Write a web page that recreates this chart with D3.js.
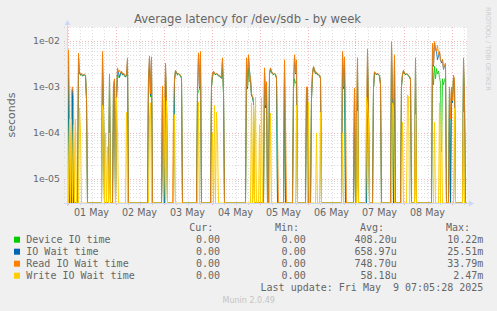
<!DOCTYPE html>
<html>
<head>
<meta charset="utf-8">
<script src="https://cdn.jsdelivr.net/npm/d3@7"></script>
<style>
  body { margin: 0; background: #f0f0f0; }
  svg { display: block; }
</style>
</head>
<body>
<div id="chart"></div>
<script>
// 30-minute samples, [index, value in seconds]; missing indexes are 0
const deviceIO = [[1,1.5e-3],[5,9e-4],[11,2e-3],[12,2.0e-3],[13,1.8e-3],[14,1.85e-3],[15,1.72e-3],[16,1.78e-3],[17,1.82e-3],[18,1.72e-3],[19,5.5e-4],
  [35,2.5e-3],[36,3.5e-4],[42,1.7e-3],[46,9e-4],[47,1.4e-3],
  [49,5.5e-4],[50,1.9e-3],[51,1.6e-3],[52,1.7e-3],[53,1.9e-3],[54,2.1e-3],[55,1.82e-3],[56,1.9e-3],[57,1.72e-3],[58,1.62e-3],[59,1.8e-3],[60,2.5e-3],
  [81,1.7e-3],[82,2.5e-3],[83,6e-4],[84,2.2e-3],[95,9.5e-4],[98,2e-3],[99,4.5e-4],
  [107,1.3e-3],[108,2.15e-3],[109,2.0e-3],[110,1.82e-3],[111,1.9e-3],[112,1.82e-3],[113,1.72e-3],[114,1.52e-3],
  [130,7e-4],[131,8e-4],[132,9e-4],[133,3e-3],
  [144,1e-3],[145,1.6e-3],[146,2.0e-3],[147,1.92e-3],[148,1.82e-3],[149,1.92e-3],[150,1.82e-3],[151,1.72e-3],[152,1.72e-3],[153,1.62e-3],[154,1.52e-3],[155,2.5e-3],[156,7e-4],
  [179,2.5e-3],[180,9e-4],[181,2.5e-3],[182,1.3e-3],[183,1.4e-3],[184,6.5e-4],[185,6e-4],[186,4.5e-4],
  [197,2e-3],[198,3.5e-4],[199,1.2e-3],
  [202,1.9e-3],[203,2.4e-3],[204,2.1e-3],[205,1.92e-3],[206,1.82e-3],[207,1.92e-3],[208,1.82e-3],[209,1.52e-3],
  [217,2.2e-3],[226,9e-4],[227,1.5e-3],[228,1.2e-3],[229,1.3e-3],[239,9e-4],[240,9e-4],
  [244,5.5e-4],[245,1.9e-3],[246,2.6e-3],[247,2.3e-3],[248,1.92e-3],[249,2.0e-3],[250,1.82e-3],[251,1.82e-3],[252,1.72e-3],[253,1.52e-3],
  [275,3e-3],[276,9e-4],[277,2.5e-3],[287,8.5e-4],[290,2.5e-3],[300,3e-3],[301,2.5e-4],
  [306,9e-4],[307,2.05e-3],[308,1.92e-3],[309,1.82e-3],[310,1.92e-3],[311,1.82e-3],[312,1.72e-3],[313,1.1e-3],
  [324,3.5e-3],[325,5.5e-4],[327,2.5e-3],
  [334,1e-3],[335,1.8e-3],[336,2.2e-3],[337,1.92e-3],[338,1.82e-3],[339,1.92e-3],[340,1.82e-3],[341,1.72e-3],[342,1.62e-3],[343,1.42e-3],
  [348,2.5e-3],
  [365,3e-3],[366,1.1e-3],[367,2.8e-3],[368,1.5e-3],[369,2.5e-3],[370,1.9e-3],[371,2.2e-3],[372,1.6e-3],[373,1.2e-3],[374,3.9e-5],[375,1.5e-3],[376,1.1e-3],[377,1.4e-3],[378,1.6e-3],
  [382,9e-4],[384,9e-4],[385,4.5e-4],[386,1.5e-3],[387,1.2e-3],[396,2.5e-3],[397,4.5e-4]];

const ioWait = [[1,5e-3],[5,9e-4],[11,4.5e-3],[12,2.0e-3],[13,1.85e-3],[14,1.9e-3],[15,1.75e-3],[16,1.8e-3],[17,1.85e-3],[18,1.75e-3],[19,5.5e-4],
  [35,5e-3],[36,3.5e-4],[42,1.8e-3],[46,9.5e-4],[47,1.45e-3],
  [49,5.5e-4],[50,2.4e-3],[51,2.0e-3],[52,1.6e-3],[53,1.95e-3],[54,2.15e-3],[55,1.85e-3],[56,1.95e-3],[57,1.75e-3],[58,1.65e-3],[59,1.85e-3],[60,4e-3],
  [81,1.55e-3],[82,4.4e-3],[83,6.5e-4],[84,4.2e-3],[95,1e-3],[98,3.1e-3],[99,4.5e-4],
  [107,1.45e-3],[108,2.25e-3],[109,2.05e-3],[110,1.85e-3],[111,1.95e-3],[112,1.85e-3],[113,1.75e-3],[114,1.55e-3],
  [130,7.5e-4],[131,5.2e-3],[132,9.5e-4],[133,5.5e-3],
  [144,1.05e-3],[145,1.95e-3],[146,2.15e-3],[147,1.95e-3],[148,1.85e-3],[149,1.95e-3],[150,1.85e-3],[151,1.75e-3],[152,1.75e-3],[153,1.65e-3],[154,1.55e-3],[155,4.1e-3],[156,7.5e-4],
  [179,4.1e-3],[180,9.5e-4],[181,4.7e-3],[182,2.3e-3],[183,1.45e-3],[184,6.5e-4],[185,6e-4],[186,4.5e-4],
  [197,2.45e-3],[198,3.5e-4],[199,1.25e-3],
  [202,1.95e-3],[203,2.5e-3],[204,2.15e-3],[205,1.95e-3],[206,1.85e-3],[207,1.95e-3],[208,1.85e-3],[209,1.55e-3],
  [217,3.7e-3],[226,9.5e-4],[227,4.7e-3],[228,1.9e-3],[229,3.7e-3],[239,9.5e-4],[240,9.5e-4],
  [244,5.5e-4],[245,1.95e-3],[246,2.7e-3],[247,2.35e-3],[248,1.95e-3],[249,2.05e-3],[250,1.85e-3],[251,1.85e-3],[252,1.75e-3],[253,1.55e-3],
  [275,5.6e-3],[276,9.5e-4],[277,4.3e-3],[287,9e-4],[290,4.1e-3],[300,6.3e-3],[301,2.5e-4],
  [306,9.5e-4],[307,2.1e-3],[308,1.95e-3],[309,1.85e-3],[310,1.95e-3],[311,1.85e-3],[312,1.75e-3],[313,1.15e-3],
  [324,9e-3],[325,5.5e-4],[327,4.7e-3],
  [334,1.05e-3],[335,1.85e-3],[336,2.25e-3],[337,1.95e-3],[338,1.85e-3],[339,1.95e-3],[340,1.85e-3],[341,1.75e-3],[342,1.65e-3],[343,1.45e-3],
  [348,4.1e-3],
  [365,8.4e-3],[366,2.8e-3],[367,9.2e-3],[368,6.6e-3],[369,5.7e-3],[370,3.9e-3],[371,4.7e-3],[372,5.7e-3],[373,3.8e-3],[374,3.3e-3],[375,3.8e-3],[376,2.4e-3],[377,2.85e-3],[378,3.1e-3],
  [382,9.5e-4],[384,9.5e-4],[385,4.5e-4],[386,1.7e-3],[387,1.35e-3],[396,4.1e-3],[397,4.5e-4]];

const readWait = [[0,3e-4],[1,6.4e-3],[2,2e-4],[4,8e-4],[5,1e-3],[6,6e-4],
  [11,5.4e-3],[12,2.1e-3],[13,1.9e-3],[14,1.95e-3],[15,1.8e-3],[16,1.85e-3],[17,1.9e-3],[18,1.8e-3],[19,6e-4],
  [35,5.9e-3],[36,4e-4],[42,1.9e-3],[46,1e-3],[47,1.5e-3],
  [49,6e-4],[50,2.6e-3],[51,2.1e-3],[52,2.3e-3],[53,2.0e-3],[54,2.2e-3],[55,1.9e-3],[56,2.0e-3],[57,1.8e-3],[58,1.7e-3],[59,1.9e-3],[60,4.3e-3],
  [81,1.6e-3],[82,4.7e-3],[83,7e-4],[84,4.5e-3],
  [95,1.05e-3],[97,3e-4],[98,3.3e-3],[99,5e-4],
  [106,3e-4],[107,1.5e-3],[108,2.3e-3],[109,2.1e-3],[110,1.9e-3],[111,2.0e-3],[112,1.9e-3],[113,1.8e-3],[114,1.6e-3],
  [130,8e-4],[131,5.5e-3],[132,1e-3],[133,5.9e-3],
  [144,1.1e-3],[145,2e-3],[146,2.2e-3],[147,2.0e-3],[148,1.9e-3],[149,2.0e-3],[150,1.9e-3],[151,1.8e-3],[152,1.8e-3],[153,1.7e-3],[154,1.6e-3],[155,4.3e-3],[156,8e-4],
  [179,4.3e-3],[180,1e-3],[181,5e-3],[182,2e-3],[183,1.5e-3],[184,7e-4],[185,6.5e-4],[186,5e-4],
  [197,2.6e-3],[198,4e-4],[199,1.3e-3],
  [202,2.0e-3],[203,2.6e-3],[204,2.2e-3],[205,2.0e-3],[206,1.9e-3],[207,2.0e-3],[208,1.9e-3],[209,1.6e-3],[210,1e-4],
  [217,3.9e-3],[218,2e-4],[226,1e-3],[227,5e-3],[228,2e-3],[229,3.9e-3],[239,1e-3],[240,1e-3],
  [244,6e-4],[245,2e-3],[246,2.8e-3],[247,2.4e-3],[248,2.0e-3],[249,2.1e-3],[250,1.9e-3],[251,1.9e-3],[252,1.8e-3],[253,1.6e-3],
  [275,5.9e-3],[276,1e-3],[277,4.5e-3],[278,3e-4],[287,9.5e-4],[289,3e-4],[290,4.3e-3],
  [299,2e-4],[300,6.7e-3],[301,3e-4],
  [306,1e-3],[307,2.15e-3],[308,2.0e-3],[309,1.9e-3],[310,2.0e-3],[311,1.9e-3],[312,1.8e-3],[313,1.2e-3],
  [324,9.6e-3],[325,6e-4],[326,4e-4],[327,5e-3],
  [334,1.1e-3],[335,1.9e-3],[336,2.3e-3],[337,2.0e-3],[338,1.9e-3],[339,2.0e-3],[340,1.9e-3],[341,1.8e-3],[342,1.7e-3],[343,1.5e-3],
  [348,4.3e-3],
  [365,8.9e-3],[366,3e-3],[367,9.7e-3],[368,7e-3],[369,6e-3],[370,8e-3],[371,5e-3],[372,6e-3],[373,4e-3],[374,3.5e-3],[375,4e-3],[376,2.5e-3],[377,3e-3],[378,3.3e-3],
  [382,1e-3],[383,2e-4],[384,1e-3],[385,5e-4],[386,1.8e-3],[387,1.4e-3],[396,4.3e-3],[397,5e-4]];

const writeWait = [[0,1.5e-4],[2,2e-4],[4,2e-4],[6,1.5e-4],[8,2e-4],[12,3.5e-4],[13,1e-4],[35,4e-4],[36,3e-4],[38,1e-4],[40,5e-5],[42,1e-4],
  [49,5.8e-4],[50,1e-4],[59,2.8e-4],[82,2e-4],[83,4.5e-4],[97,6e-4],[99,5e-4],[107,2.5e-4],[131,4.7e-4],
  [145,1e-4],[147,4e-4],[149,2.8e-4],[150,8e-5],[184,4.5e-4],[186,4e-4],[188,6e-4],[192,1.5e-4],[194,5.8e-4],
  [203,2.7e-4],[229,4e-4],[241,4.7e-4],[249,1e-4],[253,2.8e-4],[275,1e-4],[290,3e-4],
  [299,6e-4],[300,4e-4],[301,1.7e-4],[325,4.5e-4],[326,3e-4],[335,1.7e-4],[340,6.7e-4],[341,6e-4],[348,2.5e-4],
  [367,1.7e-4],[372,4.5e-4],[374,4.5e-4],[387,3.5e-4],[396,2.8e-4]];

const seriesNames = ["Device IO time", "IO Wait time", "Read IO Wait time", "Write IO Wait time"];
const curValues = ["0.00", "0.00", "0.00", "0.00"];
const minValues = ["0.00", "0.00", "0.00", "0.00"];
const avgValues = ["408.20u", "658.97u", "748.70u", "58.18u"];
const maxValues = ["10.22m", "25.51m", "33.79m", "2.47m"];
const yTicks = [1e-5, 1e-4, 1e-3, 1e-2];
const yTickLabels = ["1e-05", "1e-04", "1e-03", "1e-02"];

const colors = ["#00cc00", "#0066b3", "#ff8000", "#ffcc00"];
const N = 400;
const stepMs = 30 * 60 * 1000;
const startTime = Date.UTC(2025, 3, 30, 23, 45);

drawChart();

function toSeries(points) {
    const full = d3.range(N).map(() => 0);
    points.forEach(p => { full[p[0]] = p[1]; });
    return full.map((v, i) => ({ t: new Date(startTime + (i + 0.5) * stepMs), v: v }));
}

function drawChart() {
    const W = 497, H = 311;
    const left = 67, top = 27, right = 467, bottom = 203;
    const endTime = new Date(startTime + N * stepMs);

    const svg = d3.select("#chart").append("svg")
        .attr("width", W)
        .attr("height", H);

    svg.append("rect").attr("width", W).attr("height", H).attr("fill", "#f0f0f0");
    svg.append("rect")
        .attr("x", left).attr("y", top)
        .attr("width", right - left).attr("height", bottom - top)
        .attr("fill", "#ffffff");

    const x = d3.scaleUtc()
        .domain([new Date(startTime), endTime])
        .range([left, right]);

    const y = d3.scaleLog()
        .domain([3.0e-6, 2.0e-2])
        .range([bottom, top])
        .clamp(true);
    const yMin = y.domain()[0];

    // 网格
    const grid = svg.append("g").attr("shape-rendering", "crispEdges");
    const minorColor = "rgba(143,143,143,0.3)";
    const majorColor = "rgba(233,95,95,0.45)";
    const minorY = [];
    [1e-6, 1e-5, 1e-4, 1e-3, 1e-2].forEach(d => {
        for (let k = 2; k <= 9; k++) {
            const v = k * d;
            if (v > yMin && v <= y.domain()[1]) minorY.push(v);
        }
    });
    grid.selectAll(".ymin").data(minorY).enter().append("line")
        .attr("x1", left - 3).attr("x2", right + 2)
        .attr("y1", d => Math.round(y(d)) + 0.5).attr("y2", d => Math.round(y(d)) + 0.5)
        .attr("stroke", minorColor)
        .attr("stroke-dasharray", "1,2");

    const days = d3.utcDay.range(new Date(startTime), endTime);
    const sixHours = d3.utcHour.every(6).range(new Date(startTime), endTime)
        .filter(d => d.getUTCHours() !== 0);
    grid.selectAll(".xmin").data(sixHours).enter().append("line")
        .attr("x1", d => Math.round(x(d)) + 0.5).attr("x2", d => Math.round(x(d)) + 0.5)
        .attr("y1", top).attr("y2", bottom + 3)
        .attr("stroke", minorColor)
        .attr("stroke-dasharray", "1,2");

    grid.selectAll(".ymaj").data(yTicks).enter().append("line")
        .attr("x1", left - 3).attr("x2", right + 2)
        .attr("y1", d => Math.round(y(d)) + 0.5).attr("y2", d => Math.round(y(d)) + 0.5)
        .attr("stroke", majorColor)
        .attr("stroke-dasharray", "1,2");
    grid.selectAll(".xmaj").data(days).enter().append("line")
        .attr("x1", d => Math.round(x(d)) + 0.5).attr("x2", d => Math.round(x(d)) + 0.5)
        .attr("y1", top).attr("y2", bottom + 3)
        .attr("stroke", majorColor)
        .attr("stroke-dasharray", "1,2");

    // 数据线
    const line = d3.line()
        .x(d => x(d.t))
        .y(d => y(Math.max(d.v, yMin)));

    const opacity = [0.8, 0.8, 0.85, 0.95];
    [deviceIO, ioWait, readWait, writeWait].forEach((pts, i) => {
        svg.append("path")
            .datum(toSeries(pts))
            .attr("d", line)
            .attr("fill", "none")
            .attr("stroke", colors[i])
            .attr("stroke-opacity", opacity[i])
            .attr("stroke-width", 1);
    });

    // 坐标轴
    const axisColor = "#cfd6f8";
    svg.append("line").attr("x1", left - 3).attr("x2", right + 3)
        .attr("y1", bottom + 0.5).attr("y2", bottom + 0.5)
        .attr("stroke", axisColor);
    svg.append("line").attr("x1", left + 0.5).attr("x2", left + 0.5)
        .attr("y1", bottom + 3).attr("y2", top - 4)
        .attr("stroke", axisColor);
    svg.append("path")
        .attr("d", `M${right + 7},${bottom + 0.5} L${right + 2},${bottom - 2.5} L${right + 2},${bottom + 3.5} Z`)
        .attr("fill", axisColor);
    svg.append("path")
        .attr("d", `M${left + 0.5},${top - 7} L${left - 2.5},${top - 2} L${left + 3.5},${top - 2} Z`)
        .attr("fill", axisColor);

    const font = "DejaVu Sans, sans-serif";
    const mono = "DejaVu Sans Mono, monospace";
    const textColor = "#666666";

    // Y轴标签
    svg.selectAll(".ylab").data(yTicks).enter().append("text")
        .attr("x", 60).attr("y", d => y(d) + 3.5)
        .attr("text-anchor", "end")
        .attr("font-family", font).attr("font-size", 9.4)
        .attr("fill", textColor)
        .text((d, i) => yTickLabels[i]);

    // X轴标签 (noon of each day)
    const fmt = d3.utcFormat("%d %b");
    svg.selectAll(".xlab").data(days.filter(d => d3.utcHour.offset(d, 12) < endTime)).enter().append("text")
        .attr("x", d => x(d3.utcHour.offset(d, 12)))
        .attr("y", 216)
        .attr("text-anchor", "middle")
        .attr("font-family", font).attr("font-size", 9.6)
        .attr("fill", textColor)
        .text(d => fmt(d));

    // 标题
    svg.append("text")
        .attr("x", 247.5).attr("y", 23)
        .attr("text-anchor", "middle")
        .attr("font-family", font).attr("font-size", 11.6)
        .attr("fill", textColor)
        .text("Average latency for /dev/sdb - by week");

    svg.append("text")
        .attr("transform", "translate(15,115) rotate(-90)")
        .attr("text-anchor", "middle")
        .attr("font-family", font).attr("font-size", 11)
        .attr("fill", textColor)
        .text("seconds");

    svg.append("text")
        .attr("transform", "translate(486,7) rotate(90)")
        .attr("text-anchor", "start")
        .attr("font-family", font).attr("font-size", 6.5)
        .attr("fill", "#cccccc")
        .text("RRDTOOL / TOBI OETIKER");

    // 图例
    const headers = [["Cur:", 213.3], ["Min:", 299], ["Avg:", 384], ["Max:", 470]];
    headers.forEach(h => {
        svg.append("text")
            .attr("x", h[1]).attr("y", 231)
            .attr("text-anchor", "end")
            .attr("font-family", mono).attr("font-size", 10)
            .attr("fill", textColor)
            .text(h[0]);
    });

    const cols = [[curValues, 220], [minValues, 305.7], [avgValues, 396.7], [maxValues, 483.3]];
    seriesNames.forEach((name, i) => {
        const cy = 239.7 + i * 12;
        svg.append("rect")
            .attr("x", 14).attr("y", cy - 3)
            .attr("width", 6).attr("height", 6)
            .attr("fill", colors[i]);
        svg.append("text")
            .attr("x", 26.3).attr("y", cy + 3.5)
            .attr("font-family", mono).attr("font-size", 10)
            .attr("fill", textColor)
            .text(name);
        cols.forEach(c => {
            svg.append("text")
                .attr("x", c[1]).attr("y", cy + 3.5)
                .attr("text-anchor", "end")
                .attr("font-family", mono).attr("font-size", 10)
                .attr("fill", textColor)
                .text(c[0][i]);
        });
    });

    svg.append("text")
        .attr("x", 483.3).attr("y", 291)
        .attr("text-anchor", "end")
        .attr("font-family", mono).attr("font-size", 10)
        .attr("fill", textColor)
        .attr("xml:space", "preserve")
        .style("white-space", "pre")
        .text("Last update: Fri May  9 07:05:28 2025");

    svg.append("text")
        .attr("x", 248.7).attr("y", 302.5)
        .attr("text-anchor", "middle")
        .attr("font-family", font).attr("font-size", 8)
        .attr("fill", "#c4c4c4")
        .text("Munin 2.0.49");
}
</script>
</body>
</html>
